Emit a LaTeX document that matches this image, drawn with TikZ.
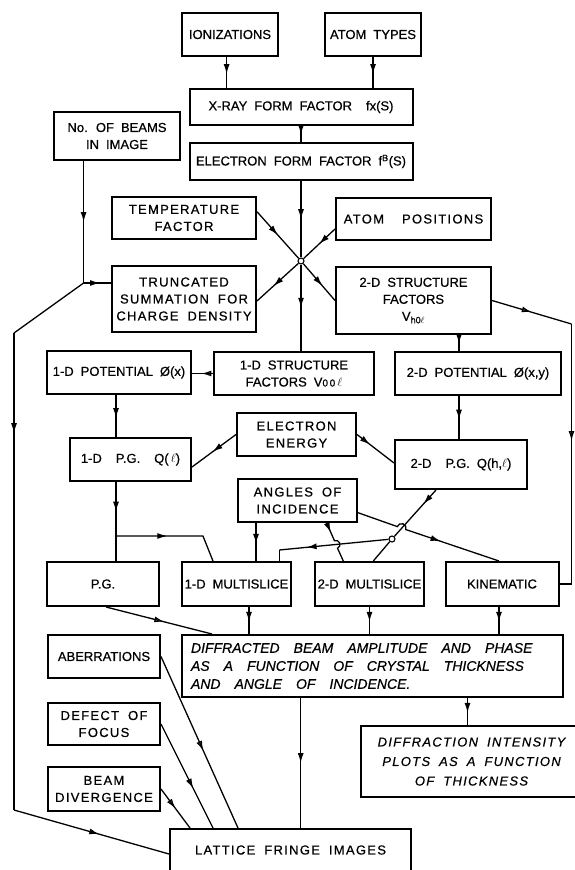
\documentclass[tikz,border=0pt]{standalone}
\usepackage{fontspec}
\setmainfont{Liberation Sans}[FakeBold=0.6]
\newfontfamily\wideLS{Liberation Sans}[LetterSpace=10,FakeBold=0.6]
\usetikzlibrary{arrows.meta,decorations.markings,calc}
\newcommand\myNF{\fontsize{13}{17}\selectfont\spaceskip=7pt plus 2pt\relax}
\newcommand\myWF{\wideLS\fontsize{13}{17}\selectfont\spaceskip=9pt plus 2pt\relax}
\newcommand\myDF{\itshape\fontsize{14}{18}\selectfont}
\newcommand\myIF{\wideLS\itshape\fontsize{13}{19.5}\selectfont\spaceskip=9pt plus 2pt\relax}
\newcommand\WS{\hspace{14pt}}
\tikzset{
  bx/.style={draw, line width=2pt, inner sep=1pt, align=center, font=\myNF},
  wbx/.style={bx, font=\myWF},
  jct/.style={circle, draw, line width=1.1pt, inner sep=0pt, minimum size=6pt, fill=white},
  con/.style={line width=1.3pt},
  arr/.style={con, postaction={decorate}, decoration={markings, mark=at position #1 with {\arrow{Latex[length=10pt,width=6pt]}}}},
  arr/.default=0.55,
  oarr/.style={con, postaction={decorate}, decoration={markings, mark=at position #1 with {\arrow{Latex[open,length=10pt,width=6pt]}}}},
  oarr/.default=0.55
}
\begin{document}
\begin{tikzpicture}[x=1pt,y=-1pt]
\fill[white] (0,0) rectangle (575,870);
\useasboundingbox (0,0) rectangle (575,870);

% boxes
\node[bx,minimum width=96pt,minimum height=43pt] (ion) at (230,34.5) {IONIZATIONS};
\node[bx,minimum width=96pt,minimum height=43pt] (atyp) at (373,34.5) {ATOM TYPES};
\node[bx,minimum width=223pt,minimum height=36pt] (xray) at (301,107) {X-RAY FORM FACTOR\ \ fx(S)};
\node[bx,minimum width=223pt,minimum height=37pt] (eff) at (301,161.5) {ELECTRON FORM FACTOR f\textsuperscript{B}(S)};
\node[bx,minimum width=126pt,minimum height=48pt] (nob) at (117,136) {No. OF BEAMS\\IN IMAGE};
\node[wbx,minimum width=144pt,minimum height=42pt] (temp) at (184,218) {TEMPERATURE\\FACTOR};
\node[wbx,minimum width=155pt,minimum height=42pt] (apos) at (413.5,219) {ATOM\ \ POSITIONS};
\node[wbx,minimum width=144pt,minimum height=66pt] (trunc) at (184,299) {TRUNCATED\\SUMMATION FOR\\CHARGE DENSITY};
\node[bx,minimum width=155pt,minimum height=67pt] (s2d) at (413.5,300.5) {2-D STRUCTURE\\FACTORS\\V\textsubscript{h0$\ell$}};
\node[bx,minimum width=144pt,minimum height=43pt] (pot1) at (119,372.5) {1-D POTENTIAL Ø(x)};
\node[bx,minimum width=160pt,minimum height=43pt] (s1d) at (294,373.5) {1-D STRUCTURE\\FACTORS V{\fontsize{10}{12}\selectfont 0\,0}\,$\ell$};
\node[bx,minimum width=166pt,minimum height=43pt] (pot2) at (478,373.5) {2-D POTENTIAL Ø(x,y)};
\node[wbx,minimum width=119pt,minimum height=43pt] (ee) at (296.5,434.5) {ELECTRON\\ENERGY};
\node[bx,minimum width=121pt,minimum height=43pt] (pg1) at (130.5,459.5) {1-D\ \ P.G.\ \ Q(\,$\ell$)};
\node[bx,minimum width=132pt,minimum height=49pt] (pg2) at (461,464.5) {2-D\ \ P.G. Q(h,$\ell$)};
\node[wbx,minimum width=119pt,minimum height=43pt] (ang) at (297.5,500.5) {ANGLES OF\\INCIDENCE};
\node[bx,minimum width=112pt,minimum height=44pt] (pg) at (103,584) {P.G.};
\node[bx,minimum width=109pt,minimum height=44pt] (ml1) at (236.5,584) {1-D MULTISLICE};
\node[bx,minimum width=109pt,minimum height=44pt] (ml2) at (369.5,584) {2-D MULTISLICE};
\node[bx,minimum width=113pt,minimum height=44pt] (kin) at (502,584) {KINEMATIC};
\node[draw,line width=2pt,minimum height=62pt,text width=363pt,inner xsep=9pt,inner ysep=1pt,align=left,font=\myDF] (diff) at (372.5,666)
  {DIFFRACTED\WS BEAM\WS AMPLITUDE\WS AND\WS PHASE\\AS\WS A\WS FUNCTION\WS OF\WS CRYSTAL\WS THICKNESS\\AND\WS ANGLE\WS OF\WS INCIDENCE.};
\node[bx,minimum width=112pt,minimum height=43pt] (aber) at (104,656.5) {ABERRATIONS};
\node[wbx,minimum width=112pt,minimum height=42pt] (dof) at (104,724) {DEFECT OF\\FOCUS};
\node[wbx,minimum width=112pt,minimum height=44pt] (bdiv) at (104,789) {BEAM\\DIVERGENCE};
\node[bx,font=\myIF,minimum width=221pt,minimum height=71pt] (dint) at (471.5,761.5) {DIFFRACTION INTENSITY\\PLOTS AS A FUNCTION\\OF THICKNESS};
\node[wbx,minimum width=241pt,minimum height=42pt] (lat) at (290.5,850) {LATTICE FRINGE IMAGES};

% junctions
\node[jct] (J) at (301,261) {};
\node[jct] (C) at (392,539) {};

% top part
\coordinate (a1) at ([xshift=-3.4pt]ion.south);
\draw[arr] (a1) -- (a1 |- xray.north);
\draw[arr] (atyp.south) -- (atyp.south |- xray.north);
\draw[oarr] (xray.south) -- (eff.north);
\draw[arr=0.5] (eff.south) -- (J);
\draw[arr=0.5] (J) -- (J |- s1d.north);
\draw[arr=0.5] ([yshift=6.3pt]temp.east) -- (J);
\draw[arr=0.5] ([yshift=-10pt]apos.west) -- (J);
\draw[arr=0.6] (J) -- ([yshift=-2pt]trunc.east);
\draw[arr=0.6] (J) -- (s2d.west);

% beams in image
\coordinate (N1) at (83.6,283);
\coordinate (nb) at (N1 |- nob.south);
\coordinate (N2) at (14,333);
\coordinate (N3) at (14,810);
\draw[arr=0.5] (nb) -- (N1);
\draw[arr=0.6] (N1) -- (N1 -| trunc.west);
\draw[con] (N1) -- (N2);
\draw[arr=0.21] (N2) -- (N3);
\draw[arr=0.55] (N3) -- ([yshift=-4pt]lat.west);

% right side
\coordinate (R1) at (571.5,324);
\coordinate (R2) at (571.5,584);
\draw[oarr=0.5] (s2d.east) -- (R1);
\draw[oarr=0.45] (R1) -- (R2);
\draw[con] (R2) -- (kin.east);

% potentials
\coordinate (b1) at ([xshift=45.5pt]s2d.south);
\draw[arr] (b1) -- (b1 |- pot2.north);
\draw[oarr] (s1d.west) -- (s1d.west -| pot1.east);
\coordinate (b2) at ([xshift=-3pt]pot1.south);
\draw[arr] (b2) -- (b2 |- pg1.north);
\coordinate (b3) at ([xshift=-19pt]pot2.south);
\draw[arr] (b3) -- (b3 |- pg2.north);
\draw[arr=0.53] (ee.west) -- ([yshift=-7.5pt]pg1.east);
\draw[oarr=0.35] (ee.east) -- ([yshift=1.5pt]pg2.west);

% P.G. branches
\coordinate (P1) at (116,536);
\coordinate (P2) at (203,536);
\draw[arr] ([xshift=-14.5pt]pg1.south) -- (P1);
\draw[con] (P1) -- (P1 |- pg.north);
\draw[arr=0.45] (P1) -- (P2) -- ([xshift=-23.5pt]ml1.north);

% angles of incidence
\coordinate (A1) at ([xshift=-41.5pt]ang.south);
\draw[arr] (A1) -- (A1 |- ml1.north);
\coordinate (h1) at (334.47,540.8);
\draw[arr=0.22] ([xshift=29.2pt]ang.south) -- (h1) arc[start angle=112.5,end angle=-67.5,radius=4pt] -- ([xshift=-26.2pt]ml2.north);
\coordinate (h2) at (397.3,526.6);
\draw[arr=0.6] ([yshift=-12.2pt]ang.east) -- (h2) arc[start angle=160.9,end angle=-19.1,radius=4.5pt] -- ([xshift=-3pt]kin.north);

% 2-D P.G. branches
\coordinate (H1) at (279.3,550);
\draw[arr=0.3] ([xshift=-25pt]pg2.south) -- (C);
\draw[con] (C) -- ([xshift=3.8pt]ml2.north);
\draw[arr=0.75] (C) -- (H1);
\draw[con] (H1) -- (H1 |- ml1.north);

% to diffracted beam box
\draw[oarr=0.55] ([xshift=3pt]pg.south) -- ([xshift=31pt]diff.north west);
\coordinate (c1) at ([xshift=12.5pt]ml1.south);
\draw[arr] (c1) -- (c1 |- diff.north);
\draw[arr] (ml2.south) -- (ml2.south |- diff.north);
\coordinate (c2) at ([xshift=-3pt]kin.south);
\draw[oarr] (c2) -- (c2 |- diff.north);

% outputs
\coordinate (c3) at ([xshift=-71.8pt]diff.south);
\draw[arr=0.5] (c3) -- (c3 |- lat.north);
\coordinate (c4) at ([xshift=95pt]diff.south);
\draw[arr] (c4) -- (c4 |- dint.north);
\draw[oarr=0.55] (aber.east) -- ([xshift=-52.5pt]lat.north);
\draw[arr=0.62] (dof.east) -- ([xshift=-77.5pt]lat.north);
\draw[oarr=0.5] (bdiv.east) -- ([xshift=-100.5pt]lat.north);
\end{tikzpicture}
\end{document}
